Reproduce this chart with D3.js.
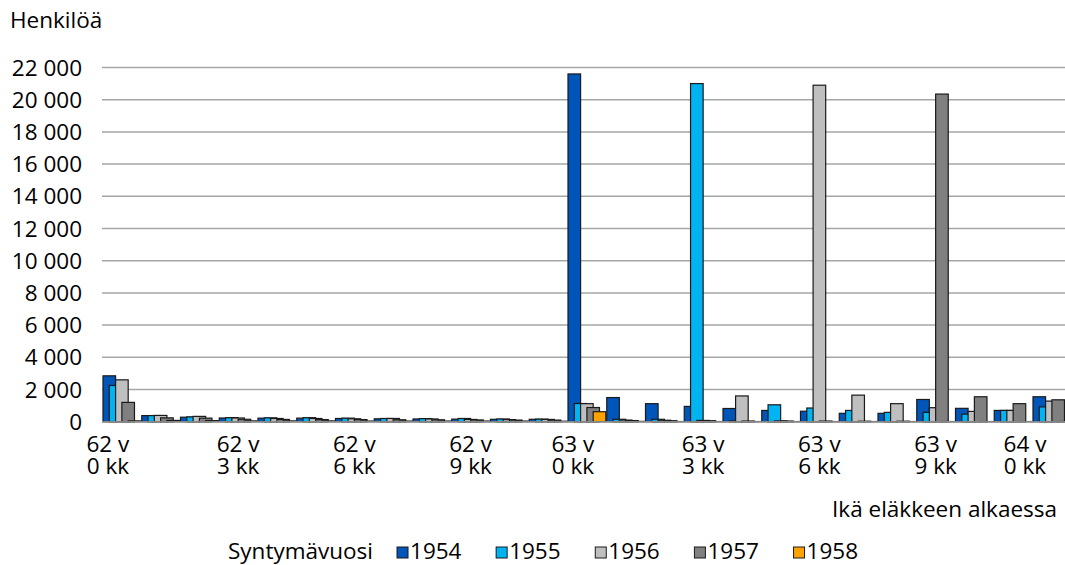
<!DOCTYPE html>
<html>
<head>
<meta charset="utf-8">
<script src="https://cdn.jsdelivr.net/npm/d3@7"></script>
<style>
  body { margin: 0; background: #fff; }
  svg { display: block; font-family: 'Open Sans', sans-serif; }
  .tick-label { font-size: 22.5px; fill: #000; }
</style>
</head>
<body>
<svg></svg>
<script>
// months from 62 v 0 kk to 64 v 0 kk
const categories = [
  '62v0', '62v1', '62v2', '62v3', '62v4', '62v5', '62v6', '62v7', '62v8', '62v9', '62v10', '62v11',
  '63v0', '63v1', '63v2', '63v3', '63v4', '63v5', '63v6', '63v7', '63v8', '63v9', '63v10', '63v11',
  '64v0'
];
const series = ['1954', '1955', '1956', '1957', '1958'];

const v1954 = [2850, 380, 280, 230, 220, 220, 200, 180, 170, 160, 150, 150, 21600, 1500, 1120, 950, 820, 700, 650, 520, 520, 1380, 830, 700, 1550];
const v1955 = [2250, 380, 300, 250, 240, 250, 220, 200, 190, 200, 170, 160, 1130, 150, 150, 21000, 50, 1050, 850, 700, 580, 580, 470, 700, 920];
const v1956 = [2600, 390, 330, 230, 200, 200, 180, 200, 170, 140, 130, 140, 1120, 100, 90, 80, 1600, 50, 20900, 1650, 1120, 870, 640, 700, 1280];
const v1957 = [1200, 240, 220, 150, 140, 130, 130, 120, 120, 110, 100, 100, 880, 70, 60, 60, 40, 40, 40, 30, 30, 20350, 1550, 1120, 1360];
const v1958 = [50, 80, 70, 50, 50, 50, 40, 40, 40, 40, 40, 30, 620, 20, 10, 10, 10, 10, 10, 10, 10, 10, 10, 10, 10];

// labelled categories (every third month)
const tickCats = ['62v0', '62v3', '62v6', '62v9', '63v0', '63v3', '63v6', '63v9', '64v0'];
const tickLines = [
  ['62 v', '0 kk'], ['62 v', '3 kk'], ['62 v', '6 kk'], ['62 v', '9 kk'],
  ['63 v', '0 kk'], ['63 v', '3 kk'], ['63 v', '6 kk'], ['63 v', '9 kk'],
  ['64 v', '0 kk']
];
const yTicks = [0, 2000, 4000, 6000, 8000, 10000, 12000, 14000, 16000, 18000, 20000, 22000];

const colors = ['#0055b8', '#00b4f2', '#bfbfbf', '#808080', '#ffa200'];
const values = [v1954, v1955, v1956, v1957, v1958];

const width = 1065;
const height = 565;

const svg = d3.select('svg')
  .attr('width', width)
  .attr('height', height);

const xScale = d3.scaleBand()
  .domain(categories)
  .range([102.5, 1071.25])
  .padding(0);

const bw = xScale.bandwidth();
const barW = bw * 0.325;
// overlapping bars inside a month
const sScale = d3.scalePoint()
  .domain(series)
  .range([0.5, 0.5 + bw * 0.65]);

const yScale = d3.scaleLinear()
  .domain([0, 22000])
  .range([421.7, 67.5]);

const fmt = d3.formatLocale({ decimal: ',', thousands: '\u00a0', grouping: [3], currency: ['', ''] }).format(',d');

// gridlines
svg.append('g')
  .selectAll('line')
  .data(yTicks.filter(d => d > 0))
  .join('line')
  .attr('x1', 102)
  .attr('x2', width)
  .attr('y1', d => yScale(d))
  .attr('y2', d => yScale(d))
  .attr('stroke', '#a6a6a6')
  .attr('stroke-width', 1.5);

// y tick labels
svg.append('g')
  .selectAll('text')
  .data(yTicks)
  .join('text')
  .attr('class', 'tick-label')
  .attr('x', 82)
  .attr('y', d => yScale(d))
  .attr('dy', '0.36em')
  .attr('text-anchor', 'end')
  .text(d => fmt(d));

// bars
const rows = [];
series.forEach((s, i) => {
  categories.forEach((c, j) => rows.push({ cat: c, s: s, value: values[i][j], color: colors[i] }));
});

svg.append('g')
  .selectAll('rect')
  .data(rows)
  .join('rect')
  .attr('x', d => xScale(d.cat) + sScale(d.s))
  .attr('y', d => yScale(d.value))
  .attr('width', barW)
  .attr('height', d => yScale(0) - yScale(d.value))
  .attr('fill', d => d.color)
  .attr('stroke', '#1a1a1a')
  .attr('stroke-width', 1.2);

// baseline
svg.append('line')
  .attr('x1', 102)
  .attr('x2', width)
  .attr('y1', yScale(0))
  .attr('y2', yScale(0))
  .attr('stroke', '#868686')
  .attr('stroke-width', 1.5);

// x tick labels; the "0 kk" ones sit a bit to the left like in Excel
const xLab = svg.append('g')
  .selectAll('text')
  .data(tickCats)
  .join('text')
  .attr('class', 'tick-label')
  .attr('text-anchor', 'middle')
  .attr('transform', (d, i) => {
    let x = xScale(d) + bw / 2;
    if (tickLines[i][1] === '0 kk') x -= 14;
    x = Math.min(x, 1025);
    return `translate(${x},0)`;
  });

xLab.append('tspan').attr('x', 0).attr('y', 452).text((d, i) => tickLines[i][0]);
xLab.append('tspan').attr('x', 0).attr('y', 474).text((d, i) => tickLines[i][1]);

// axis titles
svg.append('text')
  .attr('class', 'tick-label')
  .attr('x', 10)
  .attr('y', 28)
  .text('Henkilöä');

svg.append('text')
  .attr('class', 'tick-label')
  .attr('x', 1057)
  .attr('y', 517)
  .attr('text-anchor', 'end')
  .text('Ikä eläkkeen alkaessa');

// legend, spread from x=228 to x=858
const legend = svg.append('g').attr('transform', 'translate(228, 559)');
const title = legend.append('text')
  .attr('class', 'tick-label')
  .text('Syntymävuosi');
const titleW = title.node().getComputedTextLength();
const items = series.map((s, i) => {
  const g = legend.append('g');
  g.append('rect')
    .attr('x', 0)
    .attr('y', -12)
    .attr('width', 11)
    .attr('height', 11)
    .attr('fill', colors[i])
    .attr('stroke', '#1a1a1a')
    .attr('stroke-width', 1);
  const t = g.append('text')
    .attr('class', 'tick-label')
    .attr('x', 13)
    .text(s);
  return { g: g, w: 13 + t.node().getComputedTextLength() };
});
const firstGap = 24;
const gap = (630 - titleW - firstGap - d3.sum(items, d => d.w)) / 4;
let lx = titleW + firstGap;
items.forEach(it => {
  it.g.attr('transform', `translate(${lx},0)`);
  lx += it.w + gap;
});
</script>
</body>
</html>
